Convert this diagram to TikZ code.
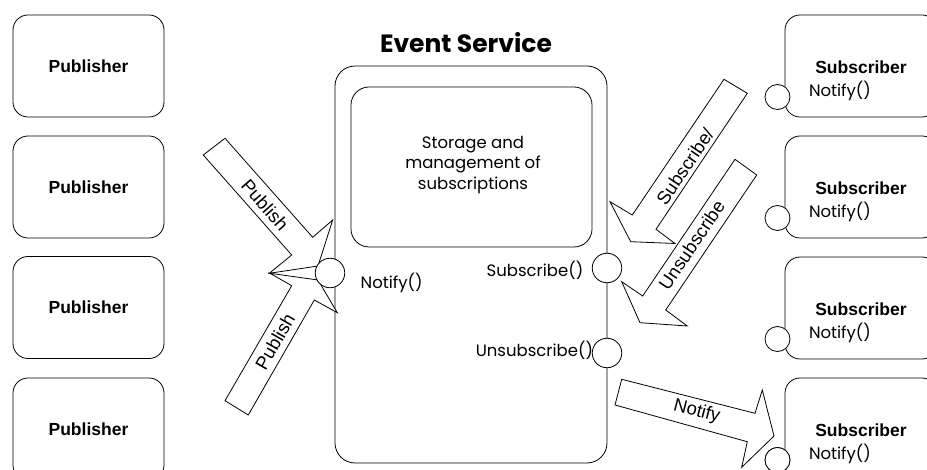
\documentclass[tikz,border=0pt]{standalone}
\usepackage{fontspec}
\setmainfont{Liberation Sans}
\newfontfamily\gothic{Poppins}
\begin{document}
\begin{tikzpicture}[x=1pt,y=-1pt,
  every node/.style={inner sep=0pt, outer sep=0pt},
  thinline/.style={line width=0.8pt, draw=black},
  pubbox/.style={thinline, rounded corners=15pt, fill=white, minimum width=151pt, minimum height=102pt,
    font=\bfseries\fontsize{17.5}{20}\selectfont},
  subbox/.style={thinline, rounded corners=15pt, fill=white, minimum width=152pt, minimum height=102pt},
  boldlabel/.style={font=\bfseries\fontsize{17.5}{20}\selectfont},
  port/.style={thinline, circle, fill=white, minimum size=25pt},
  bigport/.style={thinline, circle, fill=white, minimum size=29.5pt},
  gothiclabel/.style={font=\gothic\fontsize{16.5}{20.5}\selectfont},
  blockarrow/.style={thinline, fill=white, line join=miter},
  arrowlabel/.style={font=\fontsize{18.5}{20}\selectfont}
]
\clip (0,0) rectangle (927,470);
\fill[white] (0,0) rectangle (927,470);

% publishers
\node[pubbox] (p1) at (88.5,66) {Publisher};
\node[pubbox] (p2) at (88.5,187) {Publisher};
\node[pubbox] (p3) at (88.5,307.5) {Publisher};
\node[pubbox] (p4) at (88.5,429) {Publisher};

% event service
\node[font=\gothic\bfseries\fontsize{25}{27}\selectfont] (title) at (466,43) {Event Service};
\node[thinline, rounded corners=20pt, minimum width=272pt, minimum height=397pt] (es) at (471,264.5) {};
\node[thinline, rounded corners=18pt, minimum width=241pt, minimum height=160pt] (store) at (471.5,167) {};
\node[gothiclabel, align=center] (storetext) at (473,165) {Storage and\\management of\\subscriptions};

% block arrows: publish
\draw[blockarrow] (203.3,155) -- (291.7,255) -- (269.3,273.3) -- (318,266) -- (332.7,220) -- (312.7,237.3) -- (225,138.3) -- cycle;
\draw[blockarrow] (225,400.7) -- (291.7,285.7) -- (270,273.3) -- (318,280) -- (337.3,312.7) -- (314.3,300) -- (248.3,415) -- cycle;
\node[arrowlabel, rotate=-48.7] (pub1) at (265,205) {Publish};
\node[arrowlabel, rotate=60] (pub2) at (275,341.7) {Publish};

% ports on event service
\node[bigport] (pn) at (330,273) {};
\node[bigport] (ps) at (607,268) {};
\node[bigport] (pu) at (607,353) {};
\node[gothiclabel, anchor=west] (ln) at (360.7,283) {Notify()};
\node[gothiclabel, anchor=east] (ls) at (583.3,270) {Subscribe()};
\node[gothiclabel, anchor=east] (lu) at (593,350) {Unsubscribe()};

% subscribers
\foreach \i/\t in {1/15,2/136,3/257,4/378}{
  \node[subbox] (s\i) at (861,\t+51) {};
  \node[boldlabel] (st\i) at (861,\t+52) {Subscriber};
  \node[port] (sc\i) at (777.5,\t+82) {};
  \node[gothiclabel, anchor=west] (sn\i) at (809,\t+76) {Notify()};
}

% subscribe / unsubscribe arrows
\draw[blockarrow] (724,79.3) -- (632.3,215) -- (610,201.7) -- (630.7,241.7) -- (675,243.5) -- (656,229.3) -- (747.3,93.3) -- cycle;
\draw[blockarrow] (735,159.3) -- (642.7,296) -- (621.7,281.7) -- (640,322.7) -- (687.3,326) -- (665.7,310) -- (756.7,175) -- cycle;
\node[arrowlabel, rotate=56] (lsub) at (685,166.7) {Subscribe/};
\node[arrowlabel, rotate=56] (lunsub) at (691.7,245) {Unsubscribe};

% notify arrow
\draw[blockarrow] (621.7,379.3) -- (755,413.3) -- (762.3,390) -- (774,436) -- (741.7,467.3) -- (747.3,441.7) -- (615,405) -- cycle;
\node[arrowlabel, rotate=-14.5] (lnot) at (696.7,411.7) {Notify};
\node[port] at (sc4) {};
\end{tikzpicture}
\end{document}
